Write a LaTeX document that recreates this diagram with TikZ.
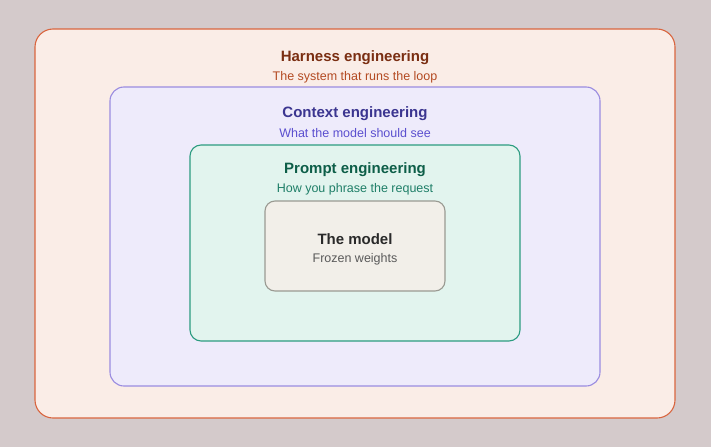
\documentclass[tikz,border=0pt]{standalone}
\usepackage{fontspec}
\setmainfont{Liberation Sans}
\definecolor{bgc}{HTML}{D4CACB}
\definecolor{hfill}{HTML}{FAEDE7}\definecolor{hdraw}{HTML}{D9653F}
\definecolor{htit}{HTML}{7A2E12}\definecolor{hsub}{HTML}{B34A22}
\definecolor{cfill}{HTML}{EEEBFB}\definecolor{cdraw}{HTML}{9A8CE0}
\definecolor{ctit}{HTML}{3B3590}\definecolor{csub}{HTML}{5B4FCF}
\definecolor{pfill}{HTML}{E2F4EE}\definecolor{pdraw}{HTML}{2C9C80}
\definecolor{ptit}{HTML}{0D5E48}\definecolor{psub}{HTML}{1F7F68}
\definecolor{mfill}{HTML}{F2EFE9}\definecolor{mdraw}{HTML}{9A9A92}
\definecolor{mtit}{HTML}{2A2A2A}\definecolor{msub}{HTML}{5A5A5A}
\tikzset{
  layer/.style={line width=1.1pt},
  tit/.style={font=\fontsize{15}{18}\selectfont\bfseries, inner sep=0pt, anchor=center},
  sub/.style={font=\fontsize{12.5}{15}\selectfont, inner sep=0pt, anchor=center},
}
\begin{document}
\begin{tikzpicture}[x=1pt,y=-1pt]
\fill[bgc] (0,0) rectangle (711,447);
\useasboundingbox (0,0) rectangle (711,447);
\draw[layer, draw=hdraw, fill=hfill, rounded corners=18pt] (35,29) rectangle (675,418);
\draw[layer, draw=cdraw, fill=cfill, rounded corners=14pt] (110,87) rectangle (600,386);
\draw[layer, draw=pdraw, fill=pfill, rounded corners=11pt] (190,145) rectangle (520,341);
\draw[layer, draw=mdraw, fill=mfill, rounded corners=10pt] (265,201) rectangle (445,291);
\node[tit, text=htit] (ht) at (355,58) {Harness engineering};
\node[sub, text=hsub] (hs) at (355,77) {The system that runs the loop};
\node[tit, text=ctit] (ct) at (355,114) {Context engineering};
\node[sub, text=csub] (cs) at (355,133) {What the model should see};
\node[tit, text=ptit] (pt) at (355,170) {Prompt engineering};
\node[sub, text=psub] (ps) at (355,189) {How you phrase the request};
\node[tit, text=mtit] (mt) at (355,239.5) {The model};
\node[sub, text=msub] (ms) at (355,259.5) {Frozen weights};
\end{tikzpicture}
\end{document}
